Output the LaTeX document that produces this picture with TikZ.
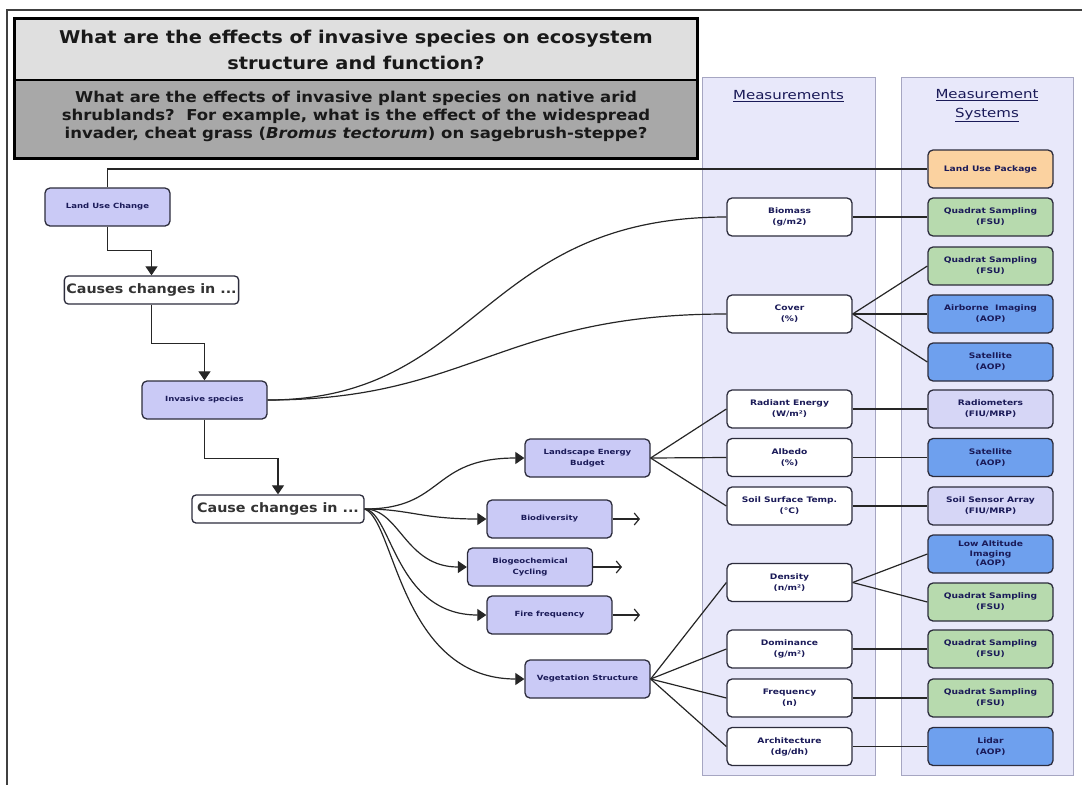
\documentclass[tikz,border=0pt]{standalone}
\usepackage{fontspec}
\setmainfont[FakeStretch=1.2]{DejaVu Sans}
\newfontfamily\titlefont[FakeStretch=1.1]{DejaVu Sans}
\usetikzlibrary{arrows.meta}
\definecolor{lav}{HTML}{CACAF6}
\definecolor{colbg}{HTML}{E8E8FA}
\definecolor{colbd}{HTML}{A6A6C2}
\definecolor{sysl}{HTML}{D6D6F6}
\definecolor{grn}{HTML}{B7DAAE}
\definecolor{blu}{HTML}{6EA0EE}
\definecolor{org}{HTML}{FBD2A0}
\definecolor{navy}{HTML}{1A1A58}
\definecolor{bd}{HTML}{2C2C3C}
\definecolor{ttop}{HTML}{DFDFDF}
\definecolor{tbot}{HTML}{A8A8A8}
\tikzset{
  box/.style={draw=bd, line width=1.3pt, rounded corners=5pt, minimum width=125pt,
    minimum height=38pt, align=center, inner sep=1pt, text=navy,
    font=\fontsize{7.6}{11}\selectfont\bfseries},
  lavbox/.style={box, fill=lav, font=\fontsize{7.1}{11}\selectfont\bfseries},
  measbox/.style={box, fill=white},
  grnbox/.style={box, fill=grn},
  blubox/.style={box, fill=blu},
  slbox/.style={box, fill=sysl},
  orgbox/.style={box, fill=org},
  bigbox/.style={draw=bd, line width=1.3pt, rounded corners=4pt, fill=white,
    minimum height=28pt, inner sep=2pt, text=black!80,
    font=\titlefont\fontsize{13}{15}\selectfont\bfseries},
  conn/.style={draw=black!85, line width=1.2pt},
  arr/.style={conn, -{Triangle[length=9pt,width=12pt]}},
  openarr/.style={conn, -{Straight Barb[length=5pt,width=12pt,line width=1.2pt]}},
  colhead/.style={text=navy, align=center, font=\fontsize{12.5}{19}\selectfont},
}
\begin{document}
\begin{tikzpicture}[x=1pt,y=-1pt]
\useasboundingbox (0,0) rectangle (1082,785);
% outer frame (top and left only)
\draw[black!75, line width=1.6pt] (1082,10) -- (7,10) -- (7,785);
% title box
\fill[ttop] (14,18) rectangle (697,80);
\fill[tbot] (14,80) rectangle (697,158);
\draw[black, line width=1.2pt] (14,80) -- (697,80);
\draw[black, line width=3pt] (14,18) rectangle (697,158);
\node[font=\titlefont\fontsize{17.6}{26}\selectfont\bfseries, align=center, text=black!90] (title) at (356,50)
  {What are the effects of invasive species on ecosystem\\structure and function?};
\node[font=\titlefont\fontsize{15}{18}\selectfont\bfseries, align=center, text=black!90] (sub) at (356,116)
  {What are the effects of invasive plant species on native arid\\
   shrublands?\ \ For example, what is the effect of the widespread\\
   invader, cheat grass (\textit{Bromus tectorum}) on sagebrush-steppe?};
% columns
\draw[colbd, fill=colbg, line width=0.8pt] (702,77) rectangle (875,775);
\draw[colbd, fill=colbg, line width=0.8pt] (901,77) rectangle (1073,775);
\node[colhead] (mhead) at (788.5,96) {\underline{Measurements}};
\node[colhead] (shead) at (987,105.5) {\underline{Measurement}\\\underline{Systems}};
% left flow nodes
\node[lavbox] (luc) at (107.5,207) {Land Use Change};
\node[bigbox, minimum width=173pt] (causes) at (151.5,290) {Causes changes in ...};
\node[lavbox] (inv) at (204.5,400) {Invasive species};
\node[bigbox, minimum width=172pt] (cause) at (278,509) {Cause changes in ...};
% middle nodes
\node[lavbox] (leb) at (587.5,458) {Landscape Energy\\Budget};
\node[lavbox] (bio) at (549.5,519) {Biodiversity};
\node[lavbox] (bgc) at (530,567) {Biogeochemical\\Cycling};
\node[lavbox] (fire) at (549.5,615) {Fire frequency};
\node[lavbox] (veg) at (587.5,679) {Vegetation Structure};
% measurements
\node[measbox] (biomass) at (789.5,217) {Biomass\\(g/m2)};
\node[measbox] (cover) at (789.5,314) {Cover\\(\%)};
\node[measbox] (rad) at (789.5,409) {Radiant Energy\\(W/m²)};
\node[measbox] (albedo) at (789.5,457.5) {Albedo\\(\%)};
\node[measbox] (soil) at (789.5,506) {Soil Surface Temp.\\(°C)};
\node[measbox] (dens) at (789.5,582.5) {Density\\(n/m²)};
\node[measbox] (dom) at (789.5,649) {Dominance\\(g/m²)};
\node[measbox] (freq) at (789.5,698) {Frequency\\(n)};
\node[measbox] (arch) at (789.5,746.5) {Architecture\\(dg/dh)};
% measurement systems
\node[orgbox] (lup) at (990.5,169) {Land Use Package};
\node[grnbox] (qs1) at (990.5,217) {Quadrat Sampling\\(FSU)};
\node[grnbox] (qs2) at (990.5,266) {Quadrat Sampling\\(FSU)};
\node[blubox] (air) at (990.5,314) {Airborne\ \ Imaging\\(AOP)};
\node[blubox] (sat1) at (990.5,362) {Satellite\\(AOP)};
\node[slbox] (radm) at (990.5,409) {Radiometers\\(FIU/MRP)};
\node[blubox] (sat2) at (990.5,457.5) {Satellite\\(AOP)};
\node[slbox] (ssa) at (990.5,506) {Soil Sensor Array\\(FIU/MRP)};
\node[blubox, font=\fontsize{7.6}{9.5}\selectfont\bfseries] (low) at (990.5,554) {Low Altitude\\Imaging\\(AOP)};
\node[grnbox] (qs3) at (990.5,602) {Quadrat Sampling\\(FSU)};
\node[grnbox] (qs4) at (990.5,649) {Quadrat Sampling\\(FSU)};
\node[grnbox] (qs5) at (990.5,698) {Quadrat Sampling\\(FSU)};
\node[blubox] (lidar) at (990.5,746.5) {Lidar\\(AOP)};
% open arrow ends
\coordinate (bioE) at (640,519);
\coordinate (bgcE) at (622,567);
\coordinate (fireE) at (640,615);
% left flow connectors
\draw[conn] (luc.north) |- (lup.west);
\draw[arr] (luc.south) -- ++(0,24) -| (causes.north);
\draw[arr] (causes.south) -- ++(0,39) -| (inv.north);
\draw[arr] (inv.south) -- ++(0,39) -| (cause.north);
% invasive curves
\draw[conn] (inv.east) .. controls (480,400) and (480,217) .. (biomass.west);
\draw[conn] (inv.east) .. controls (470,400) and (500,314) .. (cover.west);
% cause changes curves
\draw[arr] (cause.east) .. controls (445,509) and (430,458) .. (leb.west);
\draw[arr] (cause.east) .. controls (410,509) and (420,519) .. (bio.west);
\draw[arr] (cause.east) .. controls (400,509) and (405,567) .. (bgc.west);
\draw[arr] (cause.east) .. controls (392,512) and (395,615) .. (fire.west);
\draw[arr] (cause.east) .. controls (395,520) and (400,679) .. (veg.west);
% open arrows
\draw[openarr] (bio.east) -- (bioE);
\draw[openarr] (bgc.east) -- (bgcE);
\draw[openarr] (fire.east) -- (fireE);
% energy budget
\draw[conn] (leb.east) -- (rad.west);
\draw[conn] (leb.east) -- (albedo.west);
\draw[conn] (leb.east) -- (soil.west);
% vegetation structure
\draw[conn] (veg.east) -- (dens.west);
\draw[conn] (veg.east) -- (dom.west);
\draw[conn] (veg.east) -- (freq.west);
\draw[conn] (veg.east) -- (arch.west);
% measurement -> systems
\draw[conn] (biomass.east) -- (qs1.west);
\draw[conn] (cover.east) -- (qs2.west);
\draw[conn] (cover.east) -- (air.west);
\draw[conn] (cover.east) -- (sat1.west);
\draw[conn] (rad.east) -- (radm.west);
\draw[conn] (albedo.east) -- (sat2.west);
\draw[conn] (soil.east) -- (ssa.west);
\draw[conn] (dens.east) -- (low.west);
\draw[conn] (dens.east) -- (qs3.west);
\draw[conn] (dom.east) -- (qs4.west);
\draw[conn] (freq.east) -- (qs5.west);
\draw[conn] (arch.east) -- (lidar.west);
\end{tikzpicture}
\end{document}
